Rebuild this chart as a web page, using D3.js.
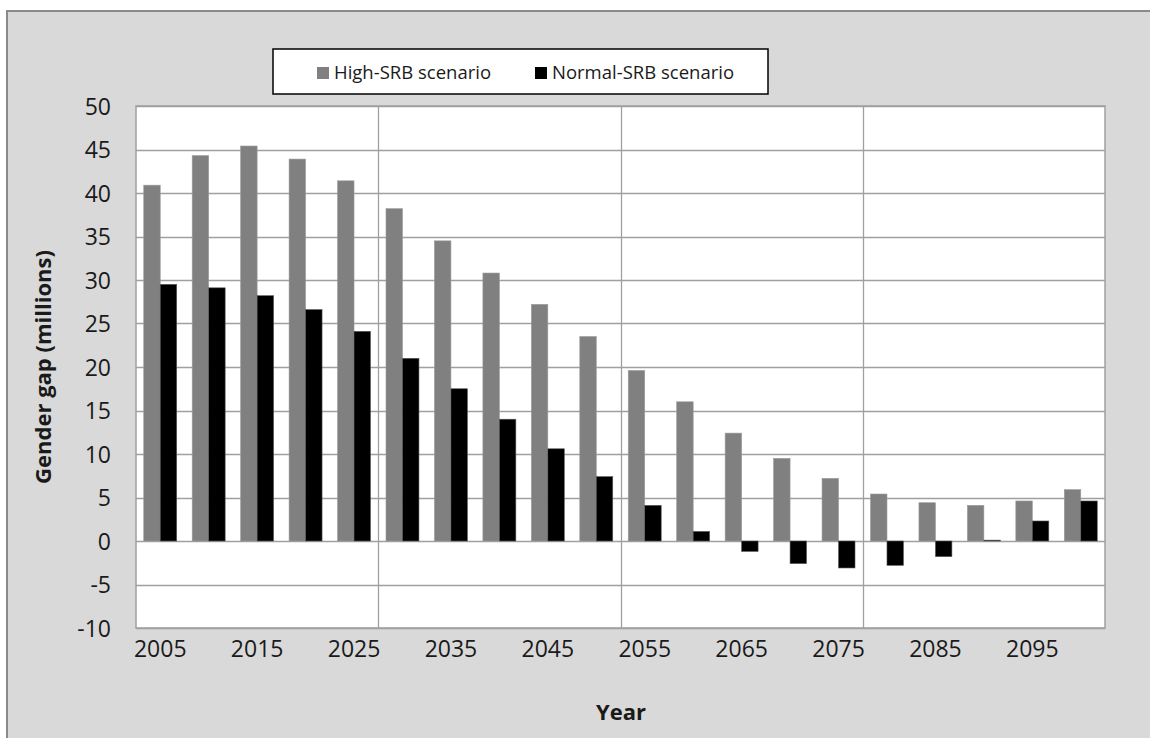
<!DOCTYPE html>
<html>
<head>
<meta charset="utf-8">
<script src="https://cdn.jsdelivr.net/npm/d3@7"></script>
<style>
  html, body { margin: 0; padding: 0; background: #ffffff; }
  svg { display: block; }
  text { font-family: "Open Sans", "Liberation Sans", sans-serif; fill: #1a1a1a; }
</style>
</head>
<body>
<svg id="chart" width="1150" height="738"></svg>
<script>
// ---- data ----
const years = ["2005","2010","2015","2020","2025","2030","2035","2040","2045","2050",
               "2055","2060","2065","2070","2075","2080","2085","2090","2095","2100"];
const highSRB   = [40.9, 44.3, 45.4, 43.9, 41.4, 38.2, 34.5, 30.8, 27.2, 23.5,
                   19.6, 16.0, 12.4, 9.5, 7.2, 5.4, 4.4, 4.1, 4.6, 5.9];
const normalSRB = [29.5, 29.1, 28.2, 26.6, 24.1, 21.0, 17.5, 14.0, 10.6, 7.4,
                   4.1, 1.1, -1.2, -2.6, -3.1, -2.8, -1.8, 0.1, 2.3, 4.6];
const yTicks = [-10, -5, 0, 5, 10, 15, 20, 25, 30, 35, 40, 45, 50];
const xTickLabels = ["2005","2015","2025","2035","2045","2055","2065","2075","2085","2095"];
const seriesNames = ["High-SRB scenario", "Normal-SRB scenario"];
const seriesColors = ["#808080", "#000000"];
const verticalGridYears = ["2030","2055","2080"];

// ---- layout ----
const svg = d3.select("#chart");
const plot = { left: 136, right: 1105, top: 106, bottom: 628 };

// outer chart area
svg.append("rect")
  .attr("x", 7).attr("y", 11)
  .attr("width", 1160).attr("height", 740)
  .attr("fill", "#d9d9d9")
  .attr("stroke", "#8a8a8a").attr("stroke-width", 2);

const x0 = d3.scaleBand().domain(years).range([plot.left, plot.right]).paddingInner(0).paddingOuter(0);
const x1 = d3.scaleBand().domain([0, 1]).range([0, x0.step()]).paddingInner(0).paddingOuter(0.47);
const y = d3.scaleLinear().domain([-10, 50]).range([plot.bottom, plot.top]);

// plot background
svg.append("rect")
  .attr("x", plot.left).attr("y", plot.top)
  .attr("width", plot.right - plot.left).attr("height", plot.bottom - plot.top)
  .attr("fill", "#ffffff");

// horizontal gridlines
svg.append("g").selectAll("line").data(yTicks).join("line")
  .attr("x1", plot.left).attr("x2", plot.right)
  .attr("y1", d => Math.round(y(d)) + 0.5).attr("y2", d => Math.round(y(d)) + 0.5)
  .attr("stroke", "#a0a0a0").attr("stroke-width", 1.3);

// vertical gridlines
svg.append("g").selectAll("line").data(verticalGridYears).join("line")
  .attr("x1", d => Math.round(x0(d)) + 0.5).attr("x2", d => Math.round(x0(d)) + 0.5)
  .attr("y1", plot.top).attr("y2", plot.bottom)
  .attr("stroke", "#a0a0a0").attr("stroke-width", 1.3);

// bars
const series = [highSRB, normalSRB];
series.forEach((vals, si) => {
  svg.append("g").selectAll("rect").data(vals).join("rect")
    .attr("x", (d, i) => x0(years[i]) + x1(si))
    .attr("width", x1.bandwidth())
    .attr("y", d => y(Math.max(0, d)))
    .attr("height", d => Math.abs(y(d) - y(0)))
    .attr("fill", seriesColors[si])
    .attr("stroke", si === 0 ? "#9a9a9a" : "#5a5a5a")
    .attr("stroke-width", 0.6);
});

// plot border
svg.append("rect")
  .attr("x", plot.left).attr("y", plot.top)
  .attr("width", plot.right - plot.left).attr("height", plot.bottom - plot.top)
  .attr("fill", "none").attr("stroke", "#a0a0a0").attr("stroke-width", 1.5);

// y axis labels
const yAxis = d3.axisLeft(y).tickValues(yTicks).tickFormat(d => String(d)).tickSize(0).tickPadding(0);
const gy = svg.append("g").attr("transform", `translate(${plot.left - 25},0)`).call(yAxis);
gy.select(".domain").remove();
gy.selectAll("text")
  .attr("font-family", "Open Sans, Liberation Sans, sans-serif")
  .attr("font-size", 23).attr("fill", "#1a1a1a").attr("dy", "0.35em");

// x axis labels
const xAxis = d3.axisBottom(x0).tickValues(xTickLabels).tickSize(0).tickPadding(0);
const gx = svg.append("g").attr("transform", `translate(0,${plot.bottom + 13})`).call(xAxis);
gx.select(".domain").remove();
gx.selectAll("text")
  .attr("font-family", "Open Sans, Liberation Sans, sans-serif")
  .attr("font-size", 23).attr("fill", "#1a1a1a").attr("dy", "0.71em");

// axis titles
svg.append("text")
  .attr("x", 621).attr("y", 720)
  .attr("text-anchor", "middle")
  .attr("font-size", 22).attr("font-weight", "bold")
  .text("Year");

svg.append("text")
  .attr("transform", `translate(51,${(plot.top + plot.bottom) / 2}) rotate(-90)`)
  .attr("text-anchor", "middle")
  .attr("font-size", 22).attr("font-weight", "bold")
  .text("Gender gap (millions)");

// legend
svg.append("rect")
  .attr("x", 273).attr("y", 49).attr("width", 495).attr("height", 45)
  .attr("fill", "#ffffff").attr("stroke", "#000000").attr("stroke-width", 1.5);

const legendItems = [{ sx: 317, tx: 334 }, { sx: 535, tx: 552 }];
legendItems.forEach((it, i) => {
  svg.append("rect")
    .attr("x", it.sx).attr("y", 67).attr("width", 12).attr("height", 12)
    .attr("fill", seriesColors[i]);
  svg.append("text")
    .attr("x", it.tx).attr("y", 79)
    .attr("font-size", 18.5)
    .text(seriesNames[i]);
});
</script>
</body>
</html>
